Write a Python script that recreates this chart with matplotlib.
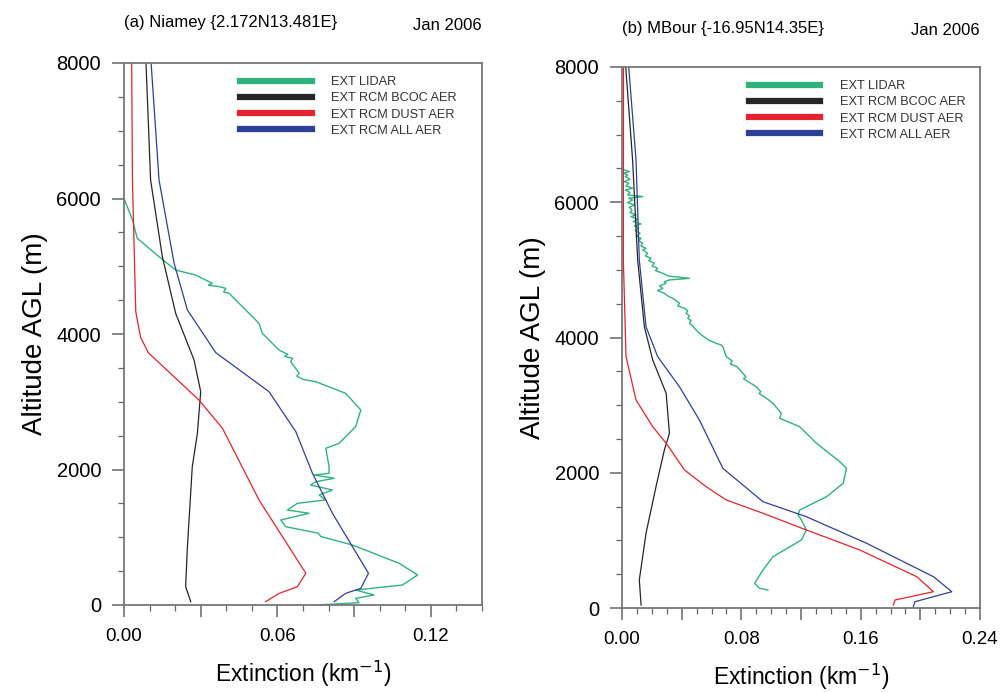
import matplotlib
matplotlib.use('Agg')
import matplotlib.pyplot as plt
from matplotlib.ticker import MultipleLocator, FuncFormatter

plt.rcParams['font.family'] = ['Liberation Sans', 'DejaVu Sans']

# ---- (a) Niamey ----
a_dust_x = [0.0030, 0.0033, 0.0046, 0.0065, 0.0095, 0.0293, 0.0385, 0.0528, 0.0711, 0.0678, 0.0607, 0.0554]
a_dust_y = [8000, 6273, 4330, 3950, 3724, 3026, 2608, 1550, 468, 270, 172, 49]
a_bcoc_x = [0.0086, 0.0104, 0.0150, 0.0202, 0.0274, 0.0300, 0.0287, 0.0267, 0.0248, 0.0241, 0.0261]
a_bcoc_y = [8000, 6273, 5141, 4305, 3616, 3149, 2534, 2042, 860, 270, 49]
a_all_x = [0.0106, 0.0137, 0.0196, 0.0248, 0.0359, 0.0567, 0.0672, 0.0737, 0.0815, 0.0956, 0.0926, 0.0867, 0.0822]
a_all_y = [8000, 6273, 5043, 4354, 3724, 3149, 2558, 1944, 1354, 468, 246, 172, 49]
a_lidar_x = [0.0000, 0.0033, 0.0052, 0.0137, 0.0202, 0.0280, 0.0345, 0.0330, 0.0372, 0.0398,
             0.0390, 0.0412, 0.0424, 0.0476, 0.0528, 0.0541, 0.0606, 0.0640, 0.0628, 0.0660,
             0.0652, 0.0685, 0.0676, 0.0700, 0.0750, 0.0867, 0.0926, 0.0906, 0.0841, 0.0789,
             0.0802, 0.0802, 0.0743, 0.0822, 0.0750, 0.0730, 0.0815, 0.0763, 0.0789, 0.0678,
             0.0639, 0.0724, 0.0613, 0.0632, 0.0760, 0.0770, 0.0893, 0.1076, 0.1148, 0.1089,
             0.0906, 0.0978, 0.0906, 0.0919, 0.0756]
a_lidar_y = [6003, 5683, 5412, 5141, 4944, 4871, 4748, 4720, 4700, 4674,
             4620, 4600, 4551, 4354, 4158, 4010, 3764, 3700, 3670, 3640,
             3592, 3420, 3380, 3330, 3296, 3124, 2878, 2632, 2386, 2313,
             2042, 1944, 1919, 1870, 1820, 1771, 1697, 1624, 1550, 1501,
             1402, 1354, 1255, 1156, 1060, 1010, 886, 615, 443, 295,
             221, 148, 98, 34, 0]

# ---- (b) MBour ----
b_dust_x = [0.0010, 0.0009, 0.0027, 0.0094, 0.0206, 0.0296, 0.0419, 0.0564, 0.0699, 0.0945,
            0.1236, 0.1594, 0.1976, 0.2088, 0.1830, 0.1819]
b_dust_y = [8000, 5147, 3717, 3076, 2681, 2436, 2041, 1794, 1597, 1401,
            1154, 858, 463, 241, 118, 44]
b_bcoc_x = [0.0025, 0.0071, 0.0105, 0.0150, 0.0206, 0.0296, 0.0318, 0.0284, 0.0228, 0.0161, 0.0116, 0.0128]
b_bcoc_y = [8000, 6626, 5147, 4160, 3668, 3175, 2583, 2337, 1794, 1105, 414, 44]
b_all_x = [0.0045, 0.0094, 0.0116, 0.0161, 0.0239, 0.0385, 0.0519, 0.0676, 0.0945, 0.1236,
           0.1640, 0.2088, 0.2211, 0.1964, 0.1953]
b_all_y = [8000, 6626, 5147, 4160, 3717, 3273, 2780, 2066, 1572, 1350,
           957, 463, 241, 93, 19]
b_lidar_x = [0.0015, 0.0049, 0.0009, 0.0038, 0.0022, 0.0054, 0.0015, 0.0045, 0.0027, 0.0071,
             0.0022, 0.0054, 0.0038, 0.0139, 0.0045, 0.0071, 0.0038, 0.0083, 0.0049, 0.0067,
             0.0054, 0.0094, 0.0060, 0.0105, 0.0076, 0.0127, 0.0083, 0.0112, 0.0089, 0.0121,
             0.0094, 0.0127, 0.0112, 0.0139, 0.0127, 0.0161, 0.0139, 0.0172, 0.0157, 0.0195,
             0.0179, 0.0217, 0.0201, 0.0239, 0.0224, 0.0273, 0.0307, 0.0452, 0.0318, 0.0284,
             0.0295, 0.0251, 0.0273, 0.0239, 0.0284, 0.0307, 0.0340, 0.0363, 0.0385, 0.0374,
             0.0419, 0.0441, 0.0430, 0.0452, 0.0441, 0.0463, 0.0452, 0.0475, 0.0486, 0.0502,
             0.0519, 0.0542, 0.0564, 0.0587, 0.0631, 0.0665, 0.0676, 0.0699, 0.0740, 0.0725,
             0.0770, 0.0810, 0.0830, 0.0815, 0.0900, 0.0930, 0.0920, 0.0970, 0.1012, 0.1068,
             0.1057, 0.1191, 0.1304, 0.1460, 0.1505, 0.1483, 0.1371, 0.1191, 0.1180, 0.1203,
             0.1236, 0.1203, 0.1012, 0.0945, 0.0889, 0.0923, 0.0978]
b_lidar_y = [6478, 6453, 6429, 6404, 6379, 6340, 6306, 6281, 6241, 6207,
             6182, 6143, 6108, 6084, 6059, 6034, 5995, 5960, 5926, 5886,
             5847, 5812, 5788, 5748, 5714, 5679, 5650, 5615, 5581, 5541,
             5502, 5467, 5433, 5393, 5354, 5319, 5295, 5245, 5206, 5171,
             5137, 5097, 5058, 5023, 4989, 4950, 4910, 4875, 4851, 4826,
             4802, 4762, 4728, 4693, 4654, 4614, 4580, 4545, 4506, 4467,
             4432, 4397, 4358, 4319, 4284, 4250, 4211, 4171, 4136, 4102,
             4062, 4023, 3988, 3954, 3915, 3889, 3865, 3717, 3650, 3610,
             3570, 3471, 3420, 3390, 3273, 3200, 3170, 3100, 3027, 2880,
             2806, 2681, 2436, 2164, 2066, 1844, 1646, 1449, 1376, 1302,
             1154, 1006, 759, 562, 365, 291, 266]

labels = ['EXT LIDAR', 'EXT RCM BCOC AER', 'EXT RCM DUST AER', 'EXT RCM ALL AER']
colors = ['#2fb27c', '#262626', '#e3232d', '#2e3f98']

fig = plt.figure(figsize=(10.01, 6.92), dpi=100)
ax1 = fig.add_axes([124/1001, 1-605/692, (482-124)/1001, (605-63)/692])
ax2 = fig.add_axes([622/1001, 1-608/692, (980-622)/1001, (608-67)/692])


def style(ax, xmax, major, title, title_y, leg_anchor):
    ax.set_xlim(0, xmax)
    ax.set_ylim(0, 8000)
    ax.xaxis.set_major_locator(MultipleLocator(major))
    ax.xaxis.set_minor_locator(MultipleLocator(0.01))
    ax.yaxis.set_major_locator(MultipleLocator(2000))
    ax.yaxis.set_minor_locator(MultipleLocator(500))

    def fmt(v, pos):
        k = round(v / major)
        return '%.2f' % v if k % 2 == 0 else ''
    ax.xaxis.set_major_formatter(FuncFormatter(fmt))
    ax.tick_params(which='major', direction='out', length=8.5, width=1.1,
                   color='#666666', pad=8, top=False, right=False)
    ax.tick_params(axis='y', labelsize=14.5)
    ax.tick_params(axis='x', labelsize=13.5)
    ax.tick_params(which='minor', direction='out', length=4.5, width=0.9,
                   color='#666666', top=False, right=False)
    for s in ax.spines.values():
        s.set_color('#777777')
        s.set_linewidth(1.3)
    ax.set_xlabel('Extinction (km$^{-1}$)', fontsize=16.5, labelpad=10)
    ax.set_ylabel('Altitude AGL (m)', fontsize=20, labelpad=6)
    ax.text(0.0, title_y, title, transform=ax.transAxes, fontsize=12,
            ha='left', va='center')
    ax.text(1.0, title_y - 0.005, 'Jan 2006', transform=ax.transAxes, fontsize=12,
            ha='right', va='center')
    handles = [plt.Line2D([], [], color=c, lw=4.5) for c in colors]
    leg = ax.legend(handles=handles, labels=labels,
                    loc='upper left', bbox_to_anchor=leg_anchor, frameon=False,
                    fontsize=9.2, handlelength=5.6, handletextpad=1.55,
                    labelspacing=0.33, borderaxespad=0)
    for t in leg.get_texts():
        t.set_color('#333333')


ax1.plot(a_lidar_x, a_lidar_y, color=colors[0], lw=1.0)
ax1.plot(a_bcoc_x, a_bcoc_y, color=colors[1], lw=0.9)
ax1.plot(a_dust_x, a_dust_y, color=colors[2], lw=0.9)
ax1.plot(a_all_x, a_all_y, color=colors[3], lw=0.9)
style(ax1, 0.14, 0.03, '(a) Niamey {2.172N13.481E}', 1.075, (0.31, 0.985))

ax2.plot(b_lidar_x, b_lidar_y, color=colors[0], lw=1.0)
ax2.plot(b_bcoc_x, b_bcoc_y, color=colors[1], lw=0.9)
ax2.plot(b_dust_x, b_dust_y, color=colors[2], lw=0.9)
ax2.plot(b_all_x, b_all_y, color=colors[3], lw=0.9)
style(ax2, 0.24, 0.04, '(b) MBour {-16.95N14.35E}', 1.072, (0.34, 0.985))

fig.savefig('out.png', dpi=100)
